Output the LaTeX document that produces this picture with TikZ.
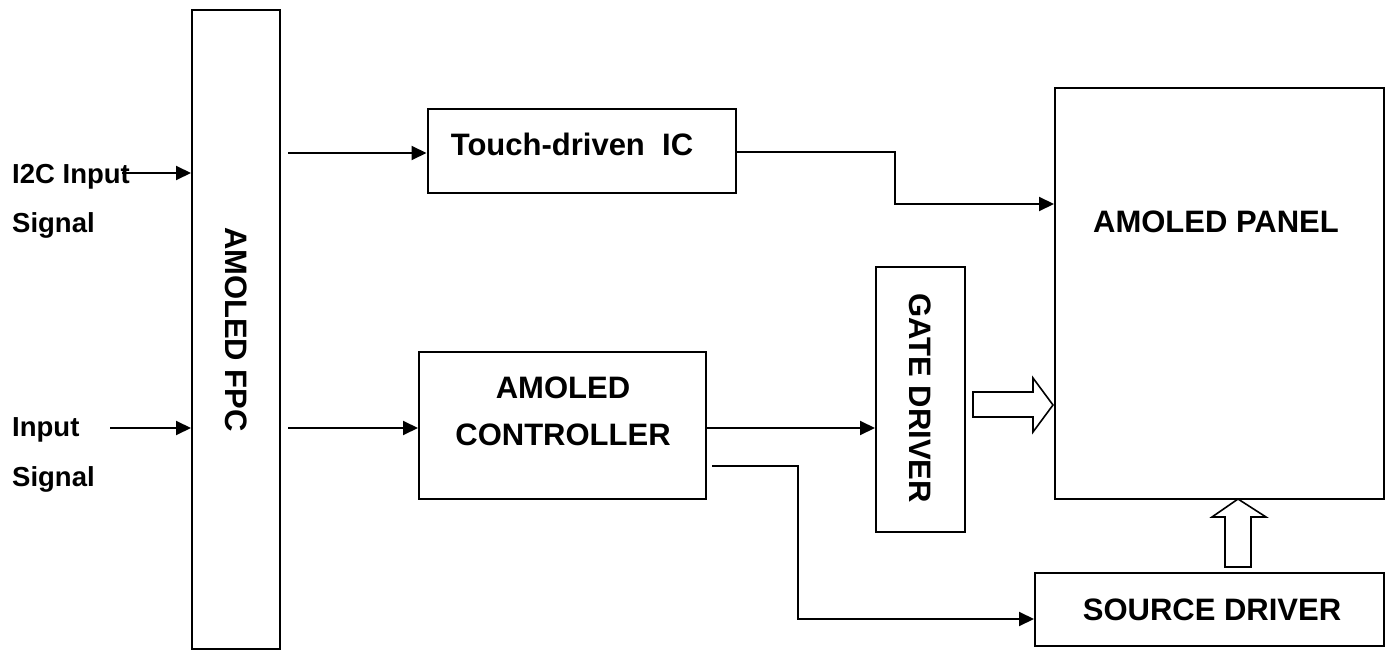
\documentclass[tikz,border=0pt]{standalone}
\usepackage{fontspec}
\setmainfont{Liberation Sans}
\usetikzlibrary{arrows.meta}
\begin{document}
\begin{tikzpicture}[x=1pt,y=-1pt,
  box/.style={draw=black,line width=2pt,rectangle,inner sep=0pt},
  lbl/.style={font=\fontsize{27.5}{33}\selectfont\bfseries,inner sep=0pt,anchor=base west},
  txt/.style={font=\fontsize{31}{36}\selectfont\bfseries,inner sep=0pt},
  arr/.style={line width=2pt,-{Triangle[length=15pt,width=14pt]}},
  conn/.style={line width=2pt},
  hollow/.style={draw=black,line width=1.6pt,fill=white,line join=miter}]
\useasboundingbox (0,0) rectangle (1393,650);
% boxes
\node[box,minimum width=88pt,minimum height=639pt] (fpc) at (236,329.5) {};
\node[box,minimum width=308pt,minimum height=84pt] (touch) at (581.5,151) {};
\node[box,minimum width=329pt,minimum height=411pt] (panel) at (1219.5,293.5) {};
\node[box,minimum width=89pt,minimum height=265pt] (gate) at (920.5,399.5) {};
\node[box,minimum width=287pt,minimum height=147pt] (ctrl) at (562.5,425.5) {};
\node[box,minimum width=349pt,minimum height=73pt] (src) at (1209.5,609.5) {};
% texts
\node[txt,rotate=-90] (fpctxt) at (236,329.5) {AMOLED FPC};
\node[txt] (touchtxt) at (572,144) {Touch-driven\ \ IC};
\node[txt] (paneltxt) at (1216,222) {AMOLED PANEL};
\node[txt,rotate=-90] (gatetxt) at (920.5,398) {GATE DRIVER};
\node[txt] (ctrltxt1) at (563,388) {AMOLED};
\node[txt] (ctrltxt2) at (563,435) {CONTROLLER};
\node[txt] (srctxt) at (1212,610) {SOURCE DRIVER};
\node[lbl] (i2c) at (12,183) {I2C Input};
\node[lbl] (sig1) at (12,233) {Signal};
\node[lbl] (inp) at (12,436) {Input};
\node[lbl] (sig2) at (12,486) {Signal};
% input arrows
\coordinate (i2cs) at (122,173);
\coordinate (inps) at (110,428);
\draw[arr] (i2cs) -- (fpc.west |- i2cs);
\draw[arr] (inps) -- (fpc.west |- inps);
% fpc outputs
\draw[arr] ([xshift=7pt]fpc.east |- 0,153) -- (touch.west |- 0,153);
\draw[arr] ([xshift=7pt]fpc.east |- 0,428) -- (ctrl.west |- 0,428);
% touch -> panel
\draw[arr,line join=miter] (touch.east |- 0,152) -- (895,152) |- (panel.west |- 0,204);
% controller -> gate
\draw[arr] (ctrl.east |- 0,428) -- (gate.west |- 0,428);
% controller -> source
\draw[arr,line join=miter] ([xshift=5pt]ctrl.east |- 0,466) -- (798,466) |- (src.west |- 0,619);
% hollow arrows
\draw[hollow] (973,392) -- (1033,392) -- (1033,378) -- (1053,405) -- (1033,432) -- (1033,417) -- (973,417) -- cycle;
\draw[hollow] (1225,567) -- (1225,517) -- (1212,517) -- (1238,499) -- (1266,517) -- (1251,517) -- (1251,567) -- cycle;
\end{tikzpicture}
\end{document}
